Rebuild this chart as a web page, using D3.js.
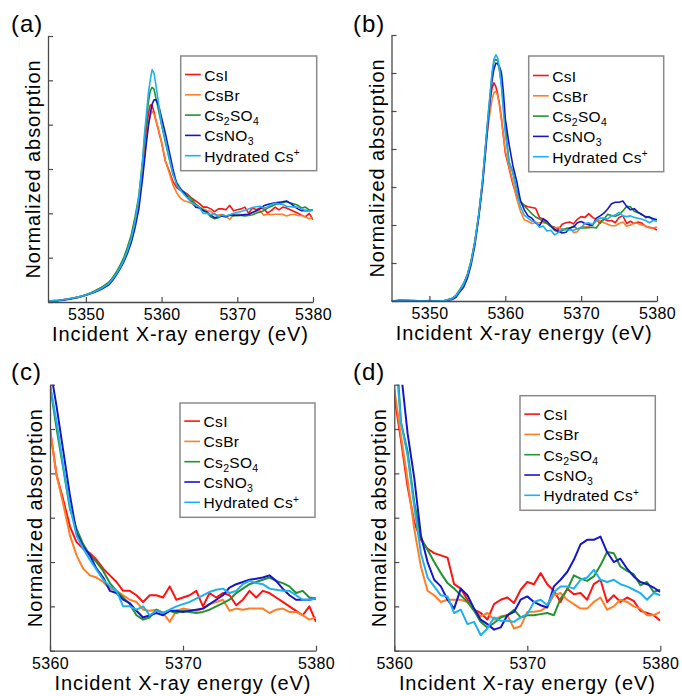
<!DOCTYPE html>
<html>
<head>
<meta charset="utf-8">
<script src="https://cdnjs.cloudflare.com/ajax/libs/d3/7.8.5/d3.min.js"></script>
<style>
  body { margin: 0; background: #fff; }
  text { font-family: "Liberation Sans", Arial, sans-serif; fill: #000; }
</style>
</head>
<body>
<script>
// Cs L3-edge XANES, four panels: (a)/(c) share one set of spectra, (b)/(d) the other

var width = 682;
var height = 696;

var seriesNames = ["CsI", "CsBr", "Cs2SO4", "CsNO3", "Hydrated Cs+"];
var seriesColors = ["#ff1212", "#ff7f27", "#239232", "#1616c8", "#1db1ee"];

var energy = [5345, 5346, 5347, 5348, 5349, 5350, 5351, 5352, 5353, 5353.5, 5354, 5354.5,
  5355, 5355.5, 5356, 5356.5, 5357, 5357.5, 5357.75, 5358, 5358.25, 5358.5, 5358.75,
  5359, 5359.25, 5359.5, 5359.75, 5360, 5360.5, 5361, 5361.5, 5362, 5362.5, 5363, 5363.5,
  5364, 5364.5, 5365, 5365.5, 5366, 5366.5, 5367, 5367.5, 5368, 5368.5, 5369, 5369.5,
  5370, 5370.5, 5371, 5371.5, 5372, 5372.5, 5373, 5373.5, 5374, 5374.5, 5375, 5375.5,
  5376, 5376.5, 5377, 5377.5, 5378, 5378.5, 5379, 5379.5, 5380];

// spectra of panels (a) and (c)
var csiA = [0.01, 0.015, 0.025, 0.04, 0.055, 0.08, 0.115, 0.16, 0.21, 0.26, 0.32, 0.39, 0.48, 0.59, 0.73, 0.92, 1.15, 1.5, 1.72, 1.95, 2.12, 2.22, 2.22, 2.14, 2.05, 1.97, 1.88, 1.80,
  1.59, 1.48, 1.36, 1.29, 1.26, 1.24, 1.21, 1.17, 1.14, 1.11, 1.07, 1.07, 1.05, 1.02, 1.05, 1.05, 1.04, 1.09, 1.03, 1.04,
  1.05, 1.07, 1.0, 1.06, 1.04, 1.06, 1.05, 1.005, 1.03, 1.07, 1.04, 1.07, 1.06, 1.04, 1.02, 1.0, 0.98, 0.96, 1.0, 0.93];
var csbrA = [0.01, 0.015, 0.025, 0.04, 0.055, 0.08, 0.11, 0.15, 0.205, 0.255, 0.31, 0.38, 0.47, 0.58, 0.71, 0.9, 1.12, 1.45, 1.66, 1.85, 2.0, 2.1, 2.15, 2.12, 2.05, 1.98, 1.89, 1.80,
  1.59, 1.46, 1.32, 1.23, 1.17, 1.14, 1.13, 1.11, 1.08, 1.07, 1.05, 1.03, 1.02, 0.985, 0.98, 0.985, 0.97, 0.93, 0.98, 0.99,
  0.985, 0.98, 0.99, 1.01, 1.02, 1.03, 0.98, 0.99, 0.985, 0.99, 0.99, 0.99, 0.97, 0.985, 0.99, 0.975, 0.975, 0.96, 0.94, 0.95];
var cs2so4A = [0.01, 0.015, 0.025, 0.04, 0.056, 0.082, 0.115, 0.16, 0.22, 0.27, 0.335, 0.41, 0.5, 0.62, 0.76, 0.96, 1.2, 1.6, 1.85, 2.05, 2.25, 2.38, 2.42, 2.4, 2.3, 2.2, 2.1, 2.0,
  1.80, 1.62, 1.44, 1.35, 1.28, 1.23, 1.20, 1.16, 1.105, 1.07, 1.04, 1.01, 0.96, 0.94, 0.95, 0.985, 0.97, 0.98, 0.97, 0.98,
  0.975, 0.97, 0.975, 0.985, 1.0, 1.015, 1.03, 1.06, 1.08, 1.10, 1.11, 1.12, 1.13, 1.115, 1.105, 1.09, 1.06, 1.07, 1.04, 1.035];
var csno3A = [0.008, 0.012, 0.02, 0.035, 0.05, 0.075, 0.105, 0.14, 0.19, 0.24, 0.3, 0.37, 0.45, 0.55, 0.67, 0.84, 1.05, 1.4, 1.6, 1.8, 1.98, 2.12, 2.23, 2.28, 2.28, 2.24, 2.17, 2.08,
  1.90, 1.70, 1.50, 1.33, 1.27, 1.23, 1.17, 1.13, 1.07, 1.06, 1.03, 1.015, 0.98, 0.95, 0.96, 0.97, 0.96, 0.98, 0.98, 0.975,
  0.98, 0.985, 0.99, 1.01, 1.03, 1.05, 1.085, 1.10, 1.11, 1.12, 1.125, 1.13, 1.14, 1.115, 1.08, 1.05, 1.03, 1.03, 1.03, 1.035];
var hydratedA = [0.01, 0.015, 0.025, 0.04, 0.055, 0.08, 0.11, 0.15, 0.205, 0.255, 0.315, 0.385, 0.47, 0.58, 0.72, 0.91, 1.18, 1.6, 1.9, 2.12, 2.35, 2.5, 2.62, 2.58, 2.45, 2.3, 2.15, 2.0,
  1.83, 1.63, 1.45, 1.32, 1.26, 1.21, 1.165, 1.12, 1.09, 1.07, 1.0, 1.0, 0.985, 1.0, 0.96, 0.98, 0.97, 0.985, 1.0, 1.01,
  1.02, 1.035, 1.05, 1.065, 1.075, 1.08, 1.06, 1.07, 1.10, 1.115, 1.105, 1.10, 1.08, 1.075, 1.07, 1.07, 1.05, 1.03, 1.03, 1.035];

// spectra of panels (b) and (d)
var csiB = [0, 0.005, 0.003, 0, 0, 0.005, 0, 0.005, 0.03, 0.07, 0.14, 0.22, 0.34, 0.52, 0.78, 1.13, 1.57, 2.14, 2.4, 2.63, 2.8, 2.87, 2.82, 2.72, 2.58, 2.4, 2.18, 1.95,
  1.75, 1.54, 1.38, 1.30, 1.26, 1.24, 1.23, 1.22, 1.10, 1.08, 1.03, 0.985, 0.97, 0.94, 1.01, 1.03, 1.04, 1.015, 1.075, 1.11,
  1.10, 1.15, 1.10, 1.07, 1.02, 1.08, 1.055, 1.06, 1.03, 1.10, 1.12, 1.02, 1.05, 1.02, 1.04, 1.025, 0.98, 0.97, 0.96, 0.935];
var csbrB = [0, 0, 0, 0, 0, 0, 0, 0.005, 0.03, 0.07, 0.14, 0.22, 0.34, 0.52, 0.78, 1.12, 1.55, 2.1, 2.3, 2.49, 2.65, 2.74, 2.76, 2.7, 2.56, 2.38, 2.18, 1.98,
  1.77, 1.57, 1.35, 1.18, 1.07, 1.05, 1.02, 1.03, 1.03, 1.03, 1.02, 0.985, 0.955, 0.97, 0.94, 0.955, 0.96, 0.90, 0.91, 0.975,
  0.976, 0.98, 1.0, 1.05, 1.06, 1.03, 1.01, 0.99, 0.99, 1.02, 1.04, 0.985, 1.0, 1.03, 1.02, 1.0, 0.99, 0.96, 0.96, 0.975];
var cs2so4B = [0, 0, 0, 0, 0, 0, 0, 0.005, 0.035, 0.075, 0.15, 0.23, 0.35, 0.53, 0.79, 1.14, 1.58, 2.16, 2.45, 2.72, 2.98, 3.15, 3.18, 3.16, 3.02, 2.85, 2.6, 2.3,
  1.83, 1.70, 1.47, 1.31, 1.255, 1.20, 1.15, 1.105, 1.08, 1.05, 1.02, 0.98, 0.93, 0.905, 0.925, 0.95, 0.96, 0.985, 0.95, 0.96,
  0.96, 0.965, 0.97, 0.96, 1.035, 1.075, 1.14, 1.125, 1.115, 1.135, 1.185, 1.245, 1.24, 1.18, 1.16, 1.145, 1.095, 1.11, 1.065, 1.075];
var csno3B = [0, 0.008, 0.01, 0.005, 0, 0, 0, 0, 0.02, 0.05, 0.12, 0.18, 0.3, 0.48, 0.74, 1.1, 1.52, 2.08, 2.38, 2.65, 2.9, 3.05, 3.13, 3.12, 3.08, 3.0, 2.75, 2.4,
  2.06, 1.78, 1.58, 1.32, 1.20, 1.12, 1.09, 1.03, 0.99, 1.08, 1.05, 0.99, 0.94, 0.92, 0.895, 0.905, 0.96, 0.975, 1.03, 1.045,
  1.02, 1.005, 0.995, 1.09, 1.12, 1.155, 1.21, 1.28, 1.30, 1.30, 1.315, 1.245, 1.20, 1.215, 1.17, 1.135, 1.11, 1.10, 1.085, 1.065];
var hydratedB = [0, 0, 0, 0, 0, 0, 0, 0.005, 0.03, 0.07, 0.14, 0.22, 0.34, 0.52, 0.78, 1.13, 1.58, 2.16, 2.45, 2.72, 3.0, 3.18, 3.24, 3.2, 3.05, 2.8, 2.5, 2.2,
  1.83, 1.68, 1.45, 1.24, 1.13, 1.09, 1.05, 1.045, 0.97, 0.985, 0.92, 0.93, 0.87, 0.90, 0.95, 0.935, 0.935, 0.93, 0.95, 0.965,
  1.02, 1.03, 1.005, 1.065, 1.09, 1.09, 1.08, 1.12, 1.13, 1.165, 1.12, 1.11, 1.12, 1.10, 1.09, 1.075, 1.06, 1.03, 1.06, 1.05];

var xTicksFull = [5350, 5360, 5370, 5380];
var xTicksZoom = [5360, 5370, 5380];
var yTicksA = [0, 0.5, 1, 1.5, 2, 2.5, 3];
var yTicksB = [0, 0.5, 1, 1.5, 2, 2.5, 3, 3.5];
var yTicksZoom = [0.8, 1.0, 1.2, 1.4, 1.6, 1.8, 2.0];

var setA = [csiA, csbrA, cs2so4A, csno3A, hydratedA];
var setB = [csiB, csbrB, cs2so4B, csno3B, hydratedB];

var axisColor = "#4a4a4a";

var panels = [
  {id: "a", label: "(a)", lx: 11, ly: 32, series: setA, left: 48, right: 313, top: 36, bottom: 302,
   xDomain: [5345, 5380], yDomain: [0, 3], xTicks: xTicksFull, yTicks: yTicksA,
   legend: {x: 180.7, y: 56, w: 136, h: 114.7}, lw: 1.6},
  {id: "b", label: "(b)", lx: 353, ly: 32, series: setB, left: 391.5, right: 657, top: 35, bottom: 301,
   xDomain: [5345, 5380], yDomain: [0, 3.5], xTicks: xTicksFull, yTicks: yTicksB,
   legend: {x: 528.7, y: 56, w: 135, h: 115.7}, lw: 1.6},
  {id: "c", label: "(c)", lx: 11, ly: 380, series: setA, left: 50, right: 316, top: 384.7, bottom: 650.7,
   xDomain: [5360, 5380], yDomain: [0.8, 2.0], xTicks: xTicksZoom, yTicks: yTicksZoom,
   legend: {x: 180, y: 403, w: 135, h: 114.3}, lw: 2},
  {id: "d", label: "(d)", lx: 353, ly: 380, series: setB, left: 394.3, right: 660.3, top: 384.7, bottom: 650.7,
   xDomain: [5360, 5380], yDomain: [0.8, 2.0], xTicks: xTicksZoom, yTicks: yTicksZoom,
   legend: {x: 520, y: 395.7, w: 135.3, h: 114.6}, lw: 2}
];

var svg = d3.select("body").append("svg")
    .attr("width", width)
    .attr("height", height);

// digits become subscripts, "+" a superscript
function writeLabel(textSel, name) {
  var parts = name.match(/\d+|\+|[^\d+]+/g);
  var shift = 0;
  parts.forEach(function(part) {
    var target = 0, size = null;
    if (/^\d+$/.test(part)) { target = 4; size = 10.5; }
    else if (part === "+") { target = -5.5; size = 10; }
    var t = textSel.append("tspan")
        .attr("dy", target - shift)
        .text(part);
    if (size) t.attr("font-size", size);
    shift = target;
  });
}

function drawPanel(p) {
  var x = d3.scaleLinear().domain(p.xDomain).range([p.left, p.right]);
  var y = d3.scaleLinear().domain(p.yDomain).range([p.bottom, p.top]);

  var g = svg.append("g").attr("class", "panel-" + p.id);

  g.append("clipPath")
      .attr("id", "clip-" + p.id)
    .append("rect")
      .attr("x", p.left)
      .attr("y", p.top)
      .attr("width", p.right - p.left)
      .attr("height", p.bottom - p.top);

  var line = d3.line()
      .x(function(d) { return x(d[0]); })
      .y(function(d) { return y(d[1]); });

  g.append("g")
      .attr("clip-path", "url(#clip-" + p.id + ")")
    .selectAll("path")
      .data(p.series)
    .enter().append("path")
      .attr("fill", "none")
      .attr("stroke", function(d, i) { return seriesColors[i]; })
      .attr("stroke-width", p.lw)
      .attr("stroke-linejoin", "round")
      .attr("d", function(vals) {
        var pts = energy.map(function(e, k) { return [e, vals[k]]; })
            .filter(function(d) { return d[0] >= p.xDomain[0]; });
        return line(pts);
      });

  // axes, ticks pointing inward
  var xAxis = g.append("g")
      .attr("transform", "translate(0," + p.bottom + ")")
      .call(d3.axisBottom(x).tickValues(p.xTicks).tickSizeInner(-5).tickSizeOuter(0)
        .tickPadding(6.5).tickFormat(d3.format("d")));
  xAxis.attr("font-size", 16).attr("font-family", null);
  xAxis.selectAll("text").attr("letter-spacing", "0.3px").attr("fill", "#000");

  var yAxis = g.append("g")
      .attr("transform", "translate(" + p.left + ",0)")
      .call(d3.axisLeft(y).tickValues(p.yTicks).tickSizeInner(-5).tickSizeOuter(0).tickFormat(""));

  [xAxis, yAxis].forEach(function(a) {
    a.select(".domain").attr("stroke", axisColor).attr("stroke-width", 1.3);
    a.selectAll(".tick line").attr("stroke", axisColor).attr("stroke-width", 1.2);
  });

  g.append("text")
      .attr("x", (p.left + p.right) / 2)
      .attr("y", p.bottom + 39)
      .attr("text-anchor", "middle")
      .attr("font-size", 20)
      .attr("letter-spacing", "0.9px")
      .text("Incident X-ray energy (eV)");

  g.append("text")
      .attr("transform", "translate(" + (p.left - 8) + "," + ((p.top + p.bottom) / 2) + ") rotate(-90)")
      .attr("text-anchor", "middle")
      .attr("font-size", 20)
      .attr("letter-spacing", "0.9px")
      .text("Normalized absorption");

  g.append("text")
      .attr("x", p.lx)
      .attr("y", p.ly)
      .attr("font-size", 24)
      .attr("letter-spacing", "1px")
      .text(p.label);

  // legend
  var L = p.legend;
  var lg = g.append("g").attr("transform", "translate(" + L.x + "," + L.y + ")");
  lg.append("rect")
      .attr("width", L.w)
      .attr("height", L.h)
      .attr("fill", "#fff")
      .attr("stroke", "#8a8a8a")
      .attr("stroke-width", 1.5);

  var rows = lg.selectAll(".row")
      .data(seriesNames)
    .enter().append("g")
      .attr("class", "row")
      .attr("transform", function(d, i) { return "translate(0," + (L.h - 9 - (4 - i) * 20.3) + ")"; });

  rows.append("line")
      .attr("x1", 4.3).attr("x2", 20)
      .attr("y1", -6).attr("y2", -6)
      .attr("stroke", function(d, i) { return seriesColors[i]; })
      .attr("stroke-width", 1.6);

  rows.append("text")
      .attr("x", 23.6)
      .attr("font-size", 15.5)
      .attr("letter-spacing", "0.3px")
      .each(function(d) { writeLabel(d3.select(this), d); });
}

panels.forEach(drawPanel);
</script>
</body>
</html>
